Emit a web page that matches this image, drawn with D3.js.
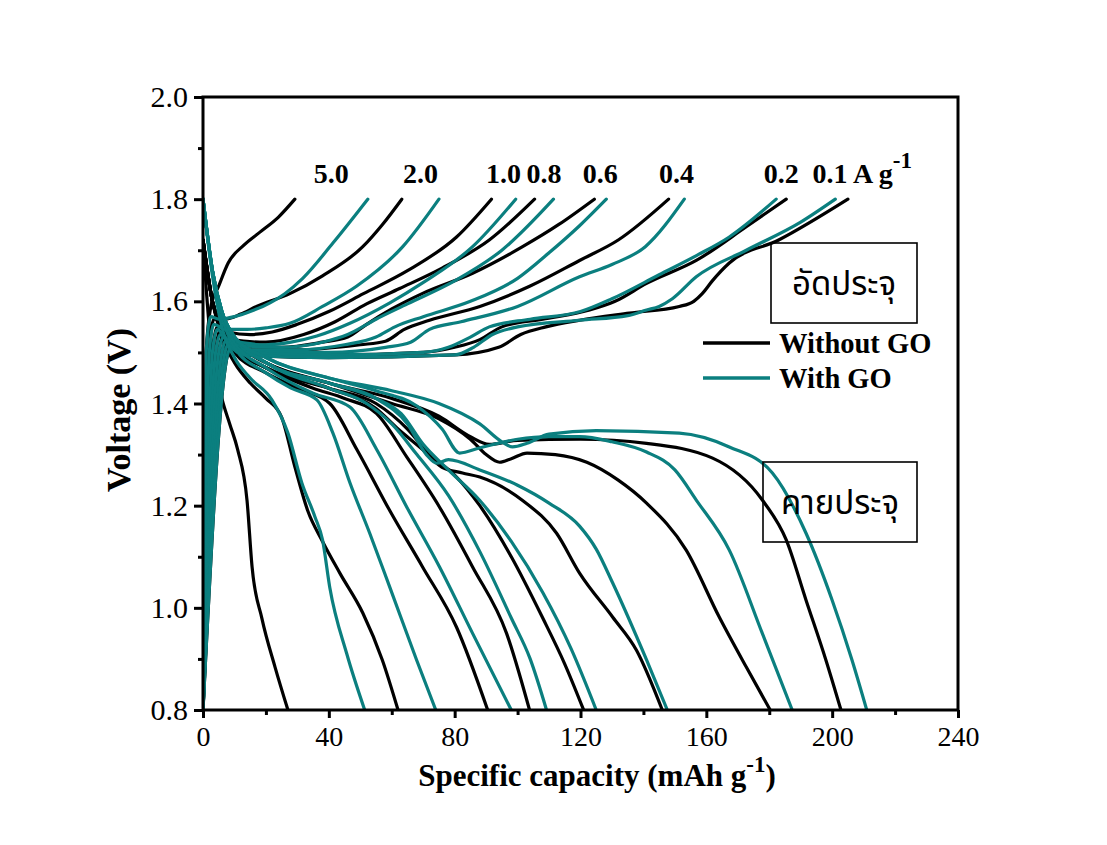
<!DOCTYPE html>
<html>
<head>
<meta charset="utf-8">
<script src="https://cdn.jsdelivr.net/npm/d3@7"></script>
<style>
  html, body { margin: 0; padding: 0; background: #ffffff; }
  svg { display: block; }
</style>
</head>
<body>
<svg id="chart" width="1107" height="845"></svg>
<script>
// Current densities (A g-1), one charge and one discharge trace per density and electrode
const rates = ["5.0", "2.0", "1.0", "0.8", "0.6", "0.4", "0.2", "0.1"];

// [specific capacity (mAh g-1), voltage (V)] — electrode without GO
const chargeBare = [
  [[0,0.8],[1,1.5],[2.5,1.59],[5,1.63],[8,1.675],[13,1.71],[18,1.735],[24,1.765],[29.2,1.8]],
  [[0,0.8],[2,1.5],[3.5,1.565],[7,1.565],[12,1.575],[17,1.59],[27.6,1.615],[38,1.65],[50.8,1.707],[57,1.75],[63.2,1.8]],
  [[0,0.8],[3,1.5],[4.5,1.55],[8,1.54],[15,1.535],[22,1.54],[30,1.555],[40,1.58],[51,1.615],[65,1.66],[80.6,1.726],[91.7,1.8]],
  [[0,0.8],[4,1.5],[5.5,1.545],[9,1.525],[20,1.52],[32,1.535],[42,1.56],[52,1.595],[62.5,1.625],[76,1.665],[91,1.72],[105.4,1.8]],
  [[0,0.8],[5,1.5],[6.5,1.535],[10,1.515],[25,1.51],[38,1.52],[46,1.53],[52,1.555],[60,1.585],[70,1.616],[85.7,1.655],[101.6,1.707],[113,1.75],[124.4,1.8]],
  [[0,0.8],[6,1.5],[7.5,1.525],[11,1.505],[30,1.505],[50,1.515],[58,1.522],[64,1.545],[72,1.563],[88,1.59],[104,1.63],[119.7,1.68],[132,1.72],[148,1.8]],
  [[0,0.8],[7,1.5],[8.5,1.52],[12,1.5],[40,1.495],[70,1.5],[80,1.51],[88,1.525],[95,1.55],[108,1.565],[122.9,1.583],[131,1.6],[141,1.635],[156.8,1.68],[172.7,1.746],[185.4,1.8]],
  [[0,0.8],[8,1.5],[9.5,1.515],[13,1.495],[40,1.49],[80,1.495],[94,1.51],[101,1.535],[109,1.55],[119.7,1.563],[135.5,1.577],[151.4,1.59],[156,1.6],[158.7,1.615],[161.9,1.64],[167.3,1.675],[183,1.72],[205,1.8]]
];

const dischargeBare = [
  [[0,1.72],[2,1.55],[4,1.47],[6,1.41],[8.5,1.36],[11,1.31],[14,1.21],[15.6,1.08],[18.7,0.98],[22.9,0.884],[27,0.8]],
  [[0,1.72],[3,1.6],[6,1.53],[10,1.48],[15,1.44],[20,1.41],[25,1.373],[29.2,1.276],[33.3,1.19],[38,1.13],[43.5,1.068],[50.8,0.99],[57,0.898],[62,0.8]],
  [[0,1.72],[3,1.6],[6,1.54],[10,1.5],[20,1.46],[30,1.43],[40.3,1.4],[48.9,1.31],[59.4,1.19],[69.8,1.08],[80.6,0.962],[90.5,0.8]],
  [[0,1.72],[3,1.6],[6,1.54],[10,1.51],[20,1.47],[35,1.43],[45,1.41],[55.2,1.38],[64.8,1.295],[75.2,1.197],[85.7,1.08],[96.5,0.95],[103.8,0.8]],
  [[0,1.72],[3,1.6],[6,1.55],[10,1.51],[20,1.47],[40,1.43],[55,1.4],[65,1.35],[72,1.3],[80,1.26],[88,1.2],[98,1.1],[108,0.98],[115,0.89],[121,0.8]],
  [[0,1.72],[3,1.6],[6,1.55],[10,1.51],[20,1.47],[40,1.43],[55,1.39],[62,1.35],[69.8,1.31],[76,1.275],[82.5,1.264],[88,1.256],[101.6,1.21],[112.4,1.146],[119.7,1.068],[130.2,0.982],[137.8,0.917],[146,0.8]],
  [[0,1.72],[3,1.6],[6,1.55],[10,1.52],[20,1.48],[40,1.44],[60,1.4],[75,1.37],[85,1.33],[90,1.3],[94.3,1.285],[98,1.292],[103,1.303],[112,1.3],[122,1.285],[132,1.25],[141,1.205],[153.6,1.113],[164.1,0.982],[172.7,0.884],[180.3,0.8]],
  [[0,1.72],[3,1.6],[6,1.55],[10,1.52],[20,1.48],[40,1.44],[60,1.41],[75,1.375],[85,1.335],[91,1.32],[100,1.328],[120,1.33],[141,1.322],[162,1.293],[177.8,1.211],[185.4,1.133],[191.7,1.015],[198,0.898],[202.8,0.8]]
];

// [specific capacity (mAh g-1), voltage (V)] — electrode with GO
const chargeGO = [
  [[0,0.8],[1,1.5],[2.5,1.57],[5,1.565],[10,1.57],[15,1.58],[21.3,1.597],[26,1.615],[31.7,1.645],[41.3,1.714],[52.4,1.8]],
  [[0,0.8],[2,1.5],[3.5,1.555],[7,1.545],[14,1.545],[20,1.548],[27.6,1.557],[38,1.59],[48.9,1.63],[63.5,1.707],[75,1.8]],
  [[0,0.8],[3,1.5],[4.5,1.545],[8,1.525],[20,1.515],[28,1.52],[36.2,1.532],[46.7,1.557],[59.4,1.597],[69.8,1.636],[85.7,1.707],[99.4,1.8]],
  [[0,0.8],[4,1.5],[5.5,1.535],[9,1.515],[25,1.51],[38,1.52],[46,1.535],[55,1.565],[65,1.595],[80,1.64],[95,1.7],[111.4,1.8]],
  [[0,0.8],[5,1.5],[6.5,1.53],[10,1.505],[30,1.505],[45,1.515],[55,1.53],[61,1.55],[70,1.57],[85,1.6],[100,1.645],[110,1.695],[119.7,1.748],[128.2,1.8]],
  [[0,0.8],[6,1.5],[7.5,1.525],[11,1.5],[40,1.5],[58,1.51],[66,1.52],[72,1.545],[82,1.56],[100,1.59],[119.7,1.648],[130,1.672],[140.6,1.707],[153,1.8]],
  [[0,0.8],[7,1.5],[8.5,1.52],[12,1.5],[40,1.495],[70,1.5],[78,1.51],[85,1.53],[91,1.55],[104,1.565],[120,1.58],[130,1.605],[145,1.652],[157,1.69],[167.3,1.726],[182.2,1.8]],
  [[0,0.8],[8,1.5],[9.5,1.515],[13,1.495],[40,1.49],[80,1.495],[86,1.51],[92,1.535],[100,1.55],[119.7,1.563],[135,1.572],[141,1.583],[145,1.59],[149.2,1.605],[156.8,1.648],[172.7,1.7],[190,1.755],[201,1.8]]
];

const dischargeGO = [
  [[0,1.8],[3,1.65],[6,1.55],[10,1.49],[15,1.45],[21.9,1.407],[27,1.342],[31.4,1.245],[35.6,1.178],[38,1.133],[40.3,1.04],[45.7,0.91],[51.4,0.8]],
  [[0,1.8],[3,1.66],[6,1.57],[10,1.51],[20,1.46],[28,1.43],[36.2,1.407],[41.3,1.342],[46.7,1.245],[53,1.146],[59.4,1.04],[67.9,0.898],[74,0.8]],
  [[0,1.8],[3,1.66],[6,1.57],[10,1.52],[20,1.47],[35,1.42],[46.7,1.393],[55.2,1.31],[64.8,1.197],[75.2,1.08],[85.7,0.95],[98,0.8]],
  [[0,1.8],[3,1.66],[6,1.58],[10,1.53],[20,1.48],[40,1.43],[52,1.4],[60,1.36],[68,1.3],[78,1.22],[88,1.11],[98,0.98],[104,0.9],[109.2,0.8]],
  [[0,1.8],[3,1.66],[6,1.58],[10,1.53],[20,1.48],[40,1.44],[55,1.41],[63,1.38],[70,1.32],[78,1.27],[88,1.21],[98,1.13],[108,1.03],[117,0.92],[125,0.8]],
  [[0,1.8],[3,1.66],[6,1.58],[10,1.53],[20,1.48],[40,1.44],[55,1.41],[65,1.36],[71,1.3],[74.3,1.283],[78,1.29],[88,1.27],[100,1.24],[110,1.205],[119.7,1.16],[125,1.115],[130.2,1.049],[141,0.898],[147.6,0.8]],
  [[0,1.8],[3,1.66],[6,1.58],[10,1.53],[20,1.49],[40,1.45],[55,1.425],[68,1.395],[76,1.35],[81.6,1.303],[87.9,1.313],[100,1.33],[110,1.335],[119.7,1.335],[130,1.325],[141,1.305],[150,1.27],[156.8,1.211],[167.3,1.113],[177.8,0.95],[187.3,0.8]],
  [[0,1.8],[3,1.66],[6,1.58],[10,1.53],[20,1.49],[40,1.45],[60,1.425],[75,1.4],[88,1.36],[95,1.325],[98.4,1.315],[103,1.322],[110,1.34],[125,1.347],[151.4,1.342],[167.3,1.315],[181,1.264],[191.7,1.146],[200,1.015],[206.3,0.898],[211,0.8]]
];

const xTicks = [0, 40, 80, 120, 160, 200, 240];
const xMinorTicks = [20, 60, 100, 140, 180, 220];
const yTicks = [0.8, 1.0, 1.2, 1.4, 1.6, 1.8, 2.0];
const yMinorTicks = [0.9, 1.1, 1.3, 1.5, 1.7, 1.9];
const legendItems = ["Without GO", "With GO"];

const BLACK = "#000000";
const TEAL = "#0b7f7f";
const SERIF = "'Liberation Serif', 'Times New Roman', serif";
const THAI = "'Noto Sans Thai', 'Noto Sans Thai UI', 'Loma', 'Garuda', 'Noto Sans', 'DejaVu Sans', sans-serif";

const svg = d3.select("#chart");
const plotLeft = 203, plotRight = 958, plotTop = 97, plotBottom = 710;

const x = d3.scaleLinear().domain([0, 240]).range([plotLeft, plotRight]);
const y = d3.scaleLinear().domain([0.8, 2.0]).range([plotBottom, plotTop]);

svg.append("rect").attr("width", 1107).attr("height", 845).attr("fill", "#ffffff");

svg.append("clipPath").attr("id", "plotClip")
  .append("rect").attr("x", plotLeft).attr("y", plotTop - 2)
  .attr("width", plotRight - plotLeft).attr("height", plotBottom - plotTop + 2);

const line = d3.line()
  .x(d => x(d[0]))
  .y(d => y(d[1]))
  .curve(d3.curveMonotoneX);

const curves = svg.append("g").attr("clip-path", "url(#plotClip)");

function drawSet(sets, color) {
  curves.selectAll(null)
    .data(sets)
    .enter().append("path")
    .attr("d", line)
    .attr("fill", "none")
    .attr("stroke", color)
    .attr("stroke-width", 3.2)
    .attr("stroke-linejoin", "round")
    .attr("stroke-linecap", "round");
}

drawSet(chargeBare, BLACK);
drawSet(dischargeBare, BLACK);
drawSet(chargeGO, TEAL);
drawSet(dischargeGO, TEAL);

// Frame
svg.append("rect")
  .attr("x", plotLeft).attr("y", plotTop)
  .attr("width", plotRight - plotLeft).attr("height", plotBottom - plotTop)
  .attr("fill", "none").attr("stroke", "#000").attr("stroke-width", 3);

// Bottom axis
const xAxis = svg.append("g").attr("transform", `translate(0,${plotBottom})`)
  .call(d3.axisBottom(x).tickValues(xTicks).tickSize(8).tickSizeOuter(0).tickPadding(8).tickFormat(d3.format("d")));
xAxis.select(".domain").remove();
xAxis.selectAll(".tick line").attr("stroke-width", 3);
xAxis.selectAll(".tick text").attr("font-family", SERIF).attr("font-size", 28).attr("fill", "#000");

const xMinor = svg.append("g").attr("transform", `translate(0,${plotBottom})`)
  .call(d3.axisBottom(x).tickValues(xMinorTicks).tickSize(5).tickSizeOuter(0).tickFormat(""));
xMinor.select(".domain").remove();
xMinor.selectAll(".tick line").attr("stroke-width", 3);

// Left axis
const yAxis = svg.append("g").attr("transform", `translate(${plotLeft},0)`)
  .call(d3.axisLeft(y).tickValues(yTicks).tickSize(9).tickSizeOuter(0).tickPadding(6).tickFormat(d3.format(".1f")));
yAxis.select(".domain").remove();
yAxis.selectAll(".tick line").attr("stroke-width", 3);
yAxis.selectAll(".tick text").attr("font-family", SERIF).attr("font-size", 30).attr("fill", "#000");

const yMinor = svg.append("g").attr("transform", `translate(${plotLeft},0)`)
  .call(d3.axisLeft(y).tickValues(yMinorTicks).tickSize(5).tickSizeOuter(0).tickFormat(""));
yMinor.select(".domain").remove();
yMinor.selectAll(".tick line").attr("stroke-width", 3);

// Axis titles
const xTitle = svg.append("text")
  .attr("x", 597).attr("y", 786)
  .attr("text-anchor", "middle")
  .attr("font-family", SERIF).attr("font-weight", "bold").attr("font-size", 31);
xTitle.append("tspan").text("Specific capacity (mAh g");
xTitle.append("tspan").attr("dy", -14).attr("font-size", 23).text("-1");
xTitle.append("tspan").attr("dy", 14).text(")");

svg.append("text")
  .attr("transform", "translate(130,410) rotate(-90)")
  .attr("text-anchor", "middle")
  .attr("font-family", SERIF).attr("font-weight", "bold").attr("font-size", 34)
  .text("Voltage (V)");

// Current density labels above the charge end points
const labelY = 183;
rates.forEach((r, i) => {
  const endBare = chargeBare[i][chargeBare[i].length - 1][0];
  const endGO = chargeGO[i][chargeGO[i].length - 1][0];
  const cx = (x(endBare) + x(endGO)) / 2;
  const last = i === rates.length - 1;
  const t = svg.append("text")
    .attr("y", labelY)
    .attr("font-family", SERIF).attr("font-weight", "bold").attr("font-size", 28)
    .attr("fill", "#000");
  if (!last) {
    t.attr("x", cx).attr("text-anchor", "middle").text(r);
  } else {
    t.attr("x", cx - 29).attr("text-anchor", "start");
    t.append("tspan").text(r + " A g");
    t.append("tspan").attr("dy", -15).attr("font-size", 23).text("-1");
  }
});

// Legend
const legend = svg.append("g");
legendItems.forEach((name, i) => {
  const ly = 343 + i * 35;
  legend.append("line")
    .attr("x1", 703).attr("x2", 770).attr("y1", ly).attr("y2", ly)
    .attr("stroke", i === 0 ? BLACK : TEAL).attr("stroke-width", 3.5);
  legend.append("text")
    .attr("x", 779).attr("y", ly + 10)
    .attr("font-family", SERIF).attr("font-weight", "bold").attr("font-size", 28.5)
    .text(name);
});

// Charge / discharge annotation boxes
function noteBox(bx, by, bw, bh, label) {
  svg.append("rect")
    .attr("x", bx).attr("y", by).attr("width", bw).attr("height", bh)
    .attr("fill", "none").attr("stroke", "#000").attr("stroke-width", 1.6);
  svg.append("text")
    .attr("x", bx + bw / 2).attr("y", by + bh / 2 + 12)
    .attr("text-anchor", "middle")
    .attr("font-family", THAI).attr("font-size", 33).attr("fill", "#000")
    .text(label);
}
noteBox(771, 243, 146, 80, "อัดประจุ");
noteBox(763, 462, 154, 80, "คายประจุ");
</script>
</body>
</html>
